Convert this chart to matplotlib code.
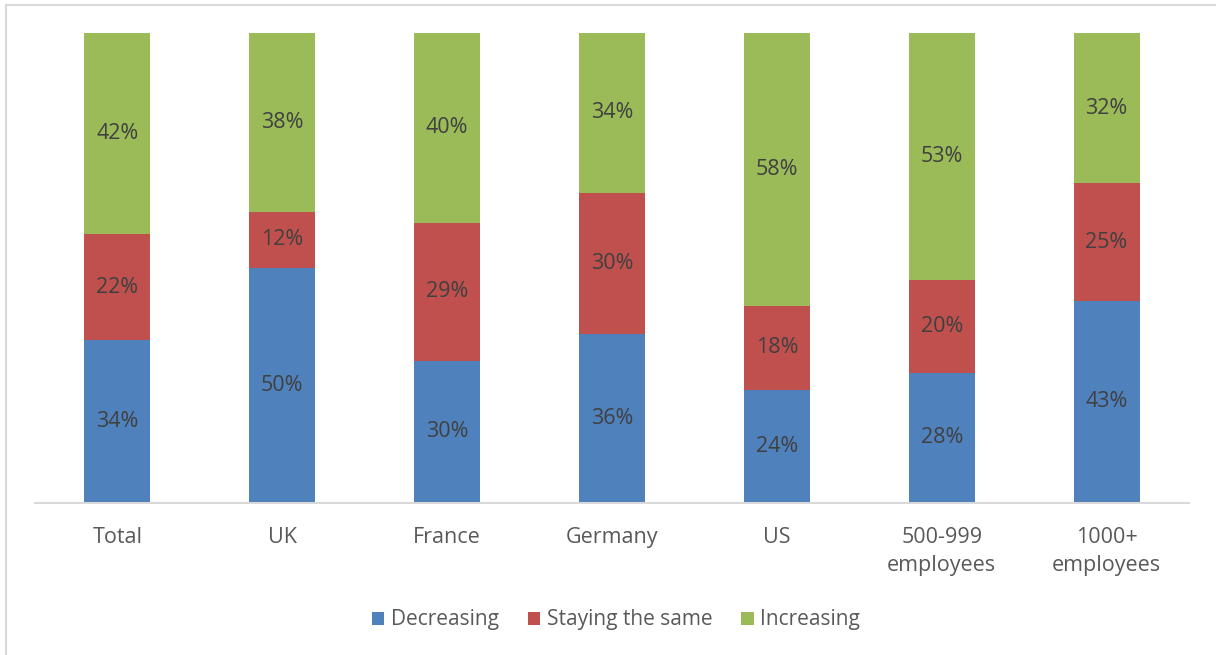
import numpy as np
import matplotlib.pyplot as plt
from matplotlib.patches import Rectangle

categories = ['Total', 'UK', 'France', 'Germany', 'US', '500-999\nemployees', '1000+\nemployees']
decreasing = [34, 50, 30, 36, 24, 28, 43]
staying = [22, 12, 29, 30, 18, 20, 25]
increasing = [42, 38, 40, 34, 58, 53, 32]

series = [('Decreasing', decreasing, '#4f81bd'),
          ('Staying the same', staying, '#c0504d'),
          ('Increasing', increasing, '#9bbb59')]

plt.rcParams['font.family'] = ['Open Sans', 'DejaVu Sans']

fig = plt.figure(figsize=(12.16, 6.55), dpi=100)
# light chart-area border (left/top visible in the crop)
fig.patches.append(Rectangle((6 / 1216, -0.1), 1.2, (650 / 655) + 0.1,
                             transform=fig.transFigure, fill=False,
                             edgecolor='#d9d9d9', linewidth=1.5))

ax = fig.add_axes([35 / 1216, 1 - 503 / 655, 1154 / 1216, 470 / 655])

# 100% stacked: each bar normalised by its own total
totals = np.array(decreasing) + np.array(staying) + np.array(increasing)
x = np.arange(len(categories))
bottom = np.zeros(len(categories))
for name, vals, color in series:
    frac = np.array(vals) / totals
    ax.bar(x, frac, 0.4, bottom=bottom, color=color, label=name, zorder=2)
    for xi, b, f, v in zip(x, bottom, frac, vals):
        ax.text(xi, b + f / 2, f'{v}%', ha='center', va='center',
                fontsize=15.5, color='#404040')
    bottom += frac

ax.set_xlim(-0.5, len(categories) - 0.5)
ax.set_ylim(0, 1)
ax.set_yticks([])
ax.set_xticks(x)
ax.set_xticklabels(categories, fontsize=15.5, color='#595959', linespacing=1.45)
ax.tick_params(axis='x', length=0, pad=17)
for s in ['top', 'right', 'left']:
    ax.spines[s].set_visible(False)
ax.spines['bottom'].set_color('#d9d9d9')
ax.spines['bottom'].set_linewidth(1.5)

leg = fig.legend(loc='center', bbox_to_anchor=(616 / 1216, 1 - 620 / 655), ncol=3,
                 frameon=False, fontsize=15, handlelength=0.6, handleheight=0.6,
                 handletextpad=0.3, columnspacing=1.4)
for t in leg.get_texts():
    t.set_color('#595959')

fig.savefig('out.png', dpi=100)
